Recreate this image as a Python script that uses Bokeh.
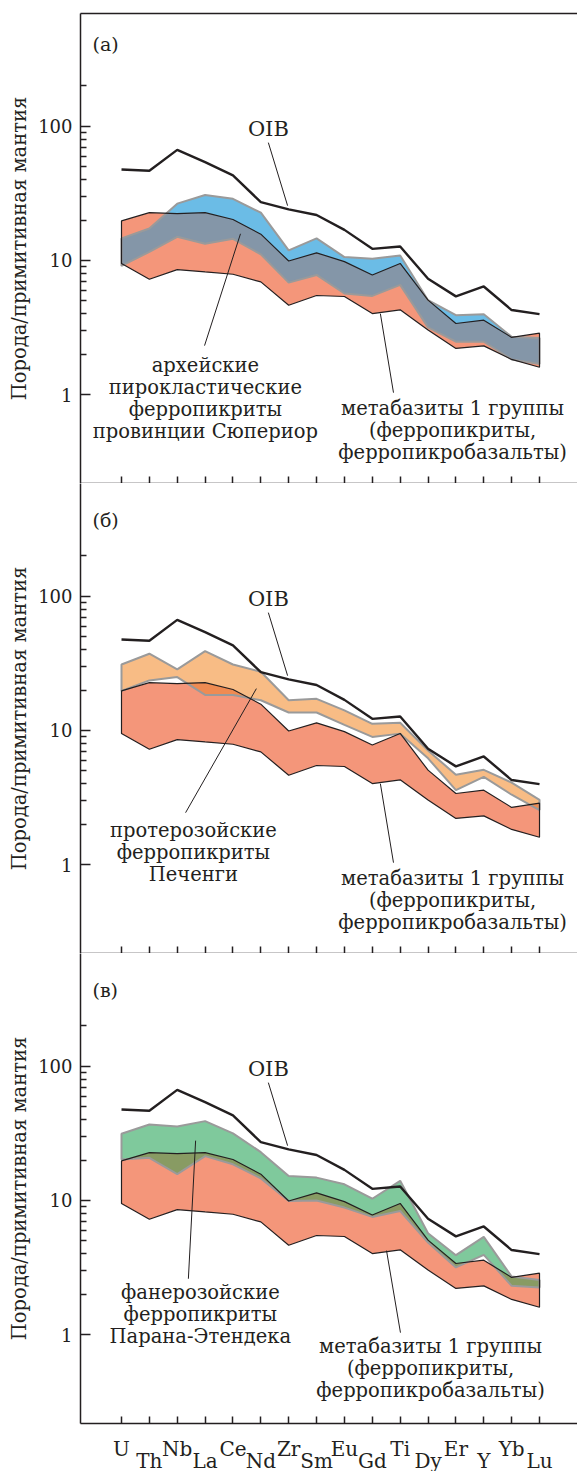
import numpy as np
from bokeh.embed import file_html
from bokeh.layouts import column
from bokeh.models import BasicTickFormatter, FixedTicker, Label, LinearAxis, Range1d
from bokeh.plotting import figure
from bokeh.resources import INLINE

# Multi-element spider diagram, normalised to primitive mantle
elements = ["U", "Th", "Nb", "La", "Ce", "Nd", "Zr", "Sm", "Eu", "Gd",
            "Ti", "Dy", "Er", "Y", "Yb", "Lu"]

oib = [47.6, 46.6, 66.7, 54.0, 43.0, 27.2, 24.0, 21.8, 16.9, 12.2,
       12.7, 7.3, 5.4, 6.4, 4.27, 3.98]

# metabasites of group 1 (ferropicrites, ferropicrobasalts): range
group1_upper = [19.7, 22.7, 22.3, 22.7, 20.2, 15.7, 9.9, 11.4, 9.8, 7.8,
                9.5, 5.06, 3.39, 3.59, 2.67, 2.87]
group1_lower = [9.5, 7.24, 8.55, 8.21, 7.89, 6.92, 4.64, 5.48, 5.39, 4.02,
                4.29, 3.03, 2.21, 2.31, 1.83, 1.60]

# Archean pyroclastic ferropicrites, Superior province
superior_upper = [14.6, 17.3, 26.5, 30.7, 28.8, 22.7, 11.9, 14.6, 10.6, 10.3,
                  10.9, 5.06, 3.91, 3.98, 2.70, 2.64]
superior_lower = [9.1, 11.6, 15.0, 13.3, 14.5, 11.1, 6.84, 7.8, 5.67, 5.44,
                  6.58, 3.17, 2.48, 2.48, 1.83, 1.69]

# Proterozoic ferropicrites, Pechenga
pechenga_upper = [31.0, 37.3, 28.5, 39.0, 31.0, 27.4, 16.8, 17.2, 14.1, 11.2,
                  11.4, 7.1, 4.67, 5.09, 4.09, 3.04]
pechenga_lower = [19.7, 23.6, 25.0, 18.4, 18.4, 16.8, 13.6, 13.6, 11.0, 8.95,
                  9.47, 6.2, 3.59, 4.51, 3.32, 2.55]

# Phanerozoic ferropicrites, Parana-Etendeka
parana_upper = [31.4, 36.8, 35.6, 39.0, 31.6, 22.9, 15.2, 14.8, 13.2, 10.3,
                14.0, 5.70, 3.91, 5.35, 2.71, 2.55]
parana_lower = [20.2, 20.8, 15.7, 21.4, 18.6, 14.6, 9.9, 10.0, 8.85, 7.54,
                8.35, 4.86, 3.17, 3.93, 2.31, 2.25]

FONT = "DejaVu Serif"
FS_NOTE = "19.5px"
FS_TICK = "18px"
FS_ELEM = "20px"
INK = "#231f20"
SALMON = "#f4967a"
EDGE_GREY = "#9a9a9a"

xs = np.arange(len(elements), dtype=float)


def overlap_band(lo_a, hi_a, lo_b, hi_b):
    """Common part of two ranges; straight in log space between elements."""
    curves = [np.log10(np.asarray(c, dtype=float)) for c in (lo_a, hi_a, lo_b, hi_b)]
    breaks = set(xs.tolist())
    for i in range(4):
        for j in range(i + 1, 4):
            d = curves[i] - curves[j]
            for k in range(len(xs) - 1):
                if d[k] * d[k + 1] < 0:
                    breaks.add(xs[k] + d[k] / (d[k] - d[k + 1]))
    bx = np.array(sorted(breaks))
    ev = [np.interp(bx, xs, c) for c in curves]
    lo = np.maximum(ev[0], ev[2])
    hi = np.maximum(np.minimum(ev[1], ev[3]), lo)
    return bx, 10 ** lo, 10 ** hi


def outline(upper, lower):
    return list(xs) + list(xs[::-1]), list(upper) + list(lower[::-1])


def make_panel(tag, tag_y, comp_upper, comp_lower, comp_color, over_color,
               comp_text, comp_anchor, comp_leader, g1_anchor, g1_leader,
               top=False, bottom=False):
    p = figure(frame_width=497, frame_height=470,
               x_range=Range1d(-1.471, 16.363), y_range=Range1d(0.2178, 692),
               y_axis_type="log", output_backend="svg", toolbar_location=None,
               min_border_left=80, min_border_right=0,
               min_border_top=13 if top else 0,
               min_border_bottom=48 if bottom else 0,
               background_fill_color="white", border_fill_color="white")
    p.outline_line_color = None
    p.xgrid.visible = False
    p.ygrid.visible = False

    # y axis
    ya = p.yaxis[0]
    ya.ticker = FixedTicker(ticks=[1, 10, 100],
                            minor_ticks=[2, 3, 4, 5, 6, 7, 8, 9,
                                         20, 30, 40, 50, 60, 70, 80, 90, 200])
    ya.formatter = BasicTickFormatter()
    ya.axis_line_color = INK
    ya.axis_line_width = 1.5
    ya.major_tick_in = 10
    ya.major_tick_out = 0
    ya.minor_tick_in = 6
    ya.minor_tick_out = 0
    ya.major_tick_line_color = INK
    ya.major_tick_line_width = 1.5
    ya.minor_tick_line_color = INK
    ya.minor_tick_line_width = 1.5
    ya.major_label_standoff = 8
    ya.major_label_text_font = FONT
    ya.major_label_text_font_size = FS_TICK
    ya.major_label_text_color = INK
    ya.axis_label = "Порода/примитивная мантия"
    ya.axis_label_text_font = FONT
    ya.axis_label_text_font_style = "normal"
    ya.axis_label_text_font_size = FS_NOTE
    ya.axis_label_text_color = INK
    ya.axis_label_standoff = 4

    # x axis: ticks pointing into the frame
    xa = p.xaxis[0]
    xa.ticker = FixedTicker(ticks=list(range(len(elements))))
    xa.axis_line_color = INK
    xa.axis_line_width = 1.5
    xa.major_tick_in = 7
    xa.major_tick_out = 0
    xa.major_tick_line_color = INK
    xa.major_tick_line_width = 1.5
    xa.minor_tick_line_color = None
    if bottom:
        # element names in two staggered rows
        xa.major_label_overrides = {i: (e if i % 2 == 0 else "")
                                    for i, e in enumerate(elements)}
        xa.major_label_standoff = 13
        xa.major_label_text_font = FONT
        xa.major_label_text_font_size = FS_ELEM
        xa.major_label_text_color = INK
        odd = [i for i in range(len(elements)) if i % 2 == 1]
        xb = LinearAxis(ticker=FixedTicker(ticks=odd),
                        major_label_overrides={i: elements[i] for i in odd})
        xb.axis_line_color = None
        xb.major_tick_line_color = None
        xb.minor_tick_line_color = None
        xb.major_tick_in = 0
        xb.major_tick_out = 0
        xb.major_label_standoff = -15
        xb.major_label_text_font = FONT
        xb.major_label_text_font_size = FS_ELEM
        xb.major_label_text_color = INK
        p.add_layout(xb, "below")
    else:
        xa.major_label_text_font_size = "0px"
        xa.major_label_standoff = 0

    if top:
        border = LinearAxis(ticker=FixedTicker(ticks=[]))
        border.axis_line_color = INK
        border.axis_line_width = 1.5
        border.major_tick_line_color = None
        border.minor_tick_line_color = None
        border.major_label_text_font_size = "0px"
        border.major_label_standoff = 0
        p.add_layout(border, "above")

    # filled ranges
    p.varea(x=xs, y1=group1_lower, y2=group1_upper, fill_color=SALMON)
    p.varea(x=xs, y1=comp_lower, y2=comp_upper, fill_color=comp_color)
    bx, blo, bhi = overlap_band(group1_lower, group1_upper, comp_lower, comp_upper)
    p.varea(x=bx, y1=blo, y2=bhi, fill_color=over_color)

    cx, cy = outline(comp_upper, comp_lower)
    p.patch(cx, cy, fill_color=None, line_color=EDGE_GREY, line_width=2)
    gx, gy = outline(group1_upper, group1_lower)
    p.patch(gx, gy, fill_color=None, line_color=INK, line_width=1.2)

    p.line(xs, oib, line_color=INK, line_width=2.4)

    # annotations
    def add_text(x, y, text, size=FS_NOTE, align="center", yoff=0):
        p.add_layout(Label(x=x, y=y, text=text, x_units="data", y_units="data",
                           y_offset=yoff, text_font=FONT, text_font_size=size,
                           text_color=INK, text_align=align,
                           text_baseline="middle"))

    add_text(-1.04, tag_y, tag, size="19px", align="left")
    add_text(5.27, 95.9, "OIB", size="21px")
    p.line([5.27, 5.96], [75.5, 25.6], line_color=INK, line_width=1)

    for i, t in enumerate(comp_text):
        add_text(comp_anchor[0], comp_anchor[1], t, yoff=-22 * i)
    p.line(comp_leader[0], comp_leader[1], line_color=INK, line_width=1)

    for i, t in enumerate(["метабазиты 1 группы", "(ферропикриты,",
                           "ферропикробазальты)"]):
        add_text(g1_anchor[0], g1_anchor[1], t, yoff=-22 * i)
    p.line(g1_leader[0], g1_leader[1], line_color=INK, line_width=1)
    return p


pa = make_panel("(а)", 412, superior_upper, superior_lower, "#6bbce6", "#8496a8",
                ["архейские", "пирокластические", "ферропикриты",
                 "провинции Сюпериор"],
                (3.01, 1.645), ([2.98, 4.27], [2.32, 15.8]),
                (11.88, 0.787), ([9.76, 9.29], [1.035, 4.01]), top=True)

pb = make_panel("(б)", 370, pechenga_upper, pechenga_lower, "#f8bc85", "#ef8b52",
                ["протерозойские", "ферропикриты", "Печенги"],
                (2.58, 1.79), ([2.30, 4.84], [2.44, 20.5]),
                (11.88, 0.787), ([9.76, 9.29], [1.035, 4.01]))

pc = make_panel("(в)", 370, parana_upper, parana_lower, "#7fc99c", "#889b63",
                ["фанерозойские", "ферропикриты", "Парана-Этендека"],
                (2.83, 2.06), ([2.40, 2.66], [2.61, 27.9]),
                (11.09, 0.814), ([10.01, 9.51], [1.035, 4.23]), bottom=True)

layout = column(pa, pb, pc, spacing=0)

with open("out.html", "w") as f:
    f.write(file_html(layout, INLINE))
